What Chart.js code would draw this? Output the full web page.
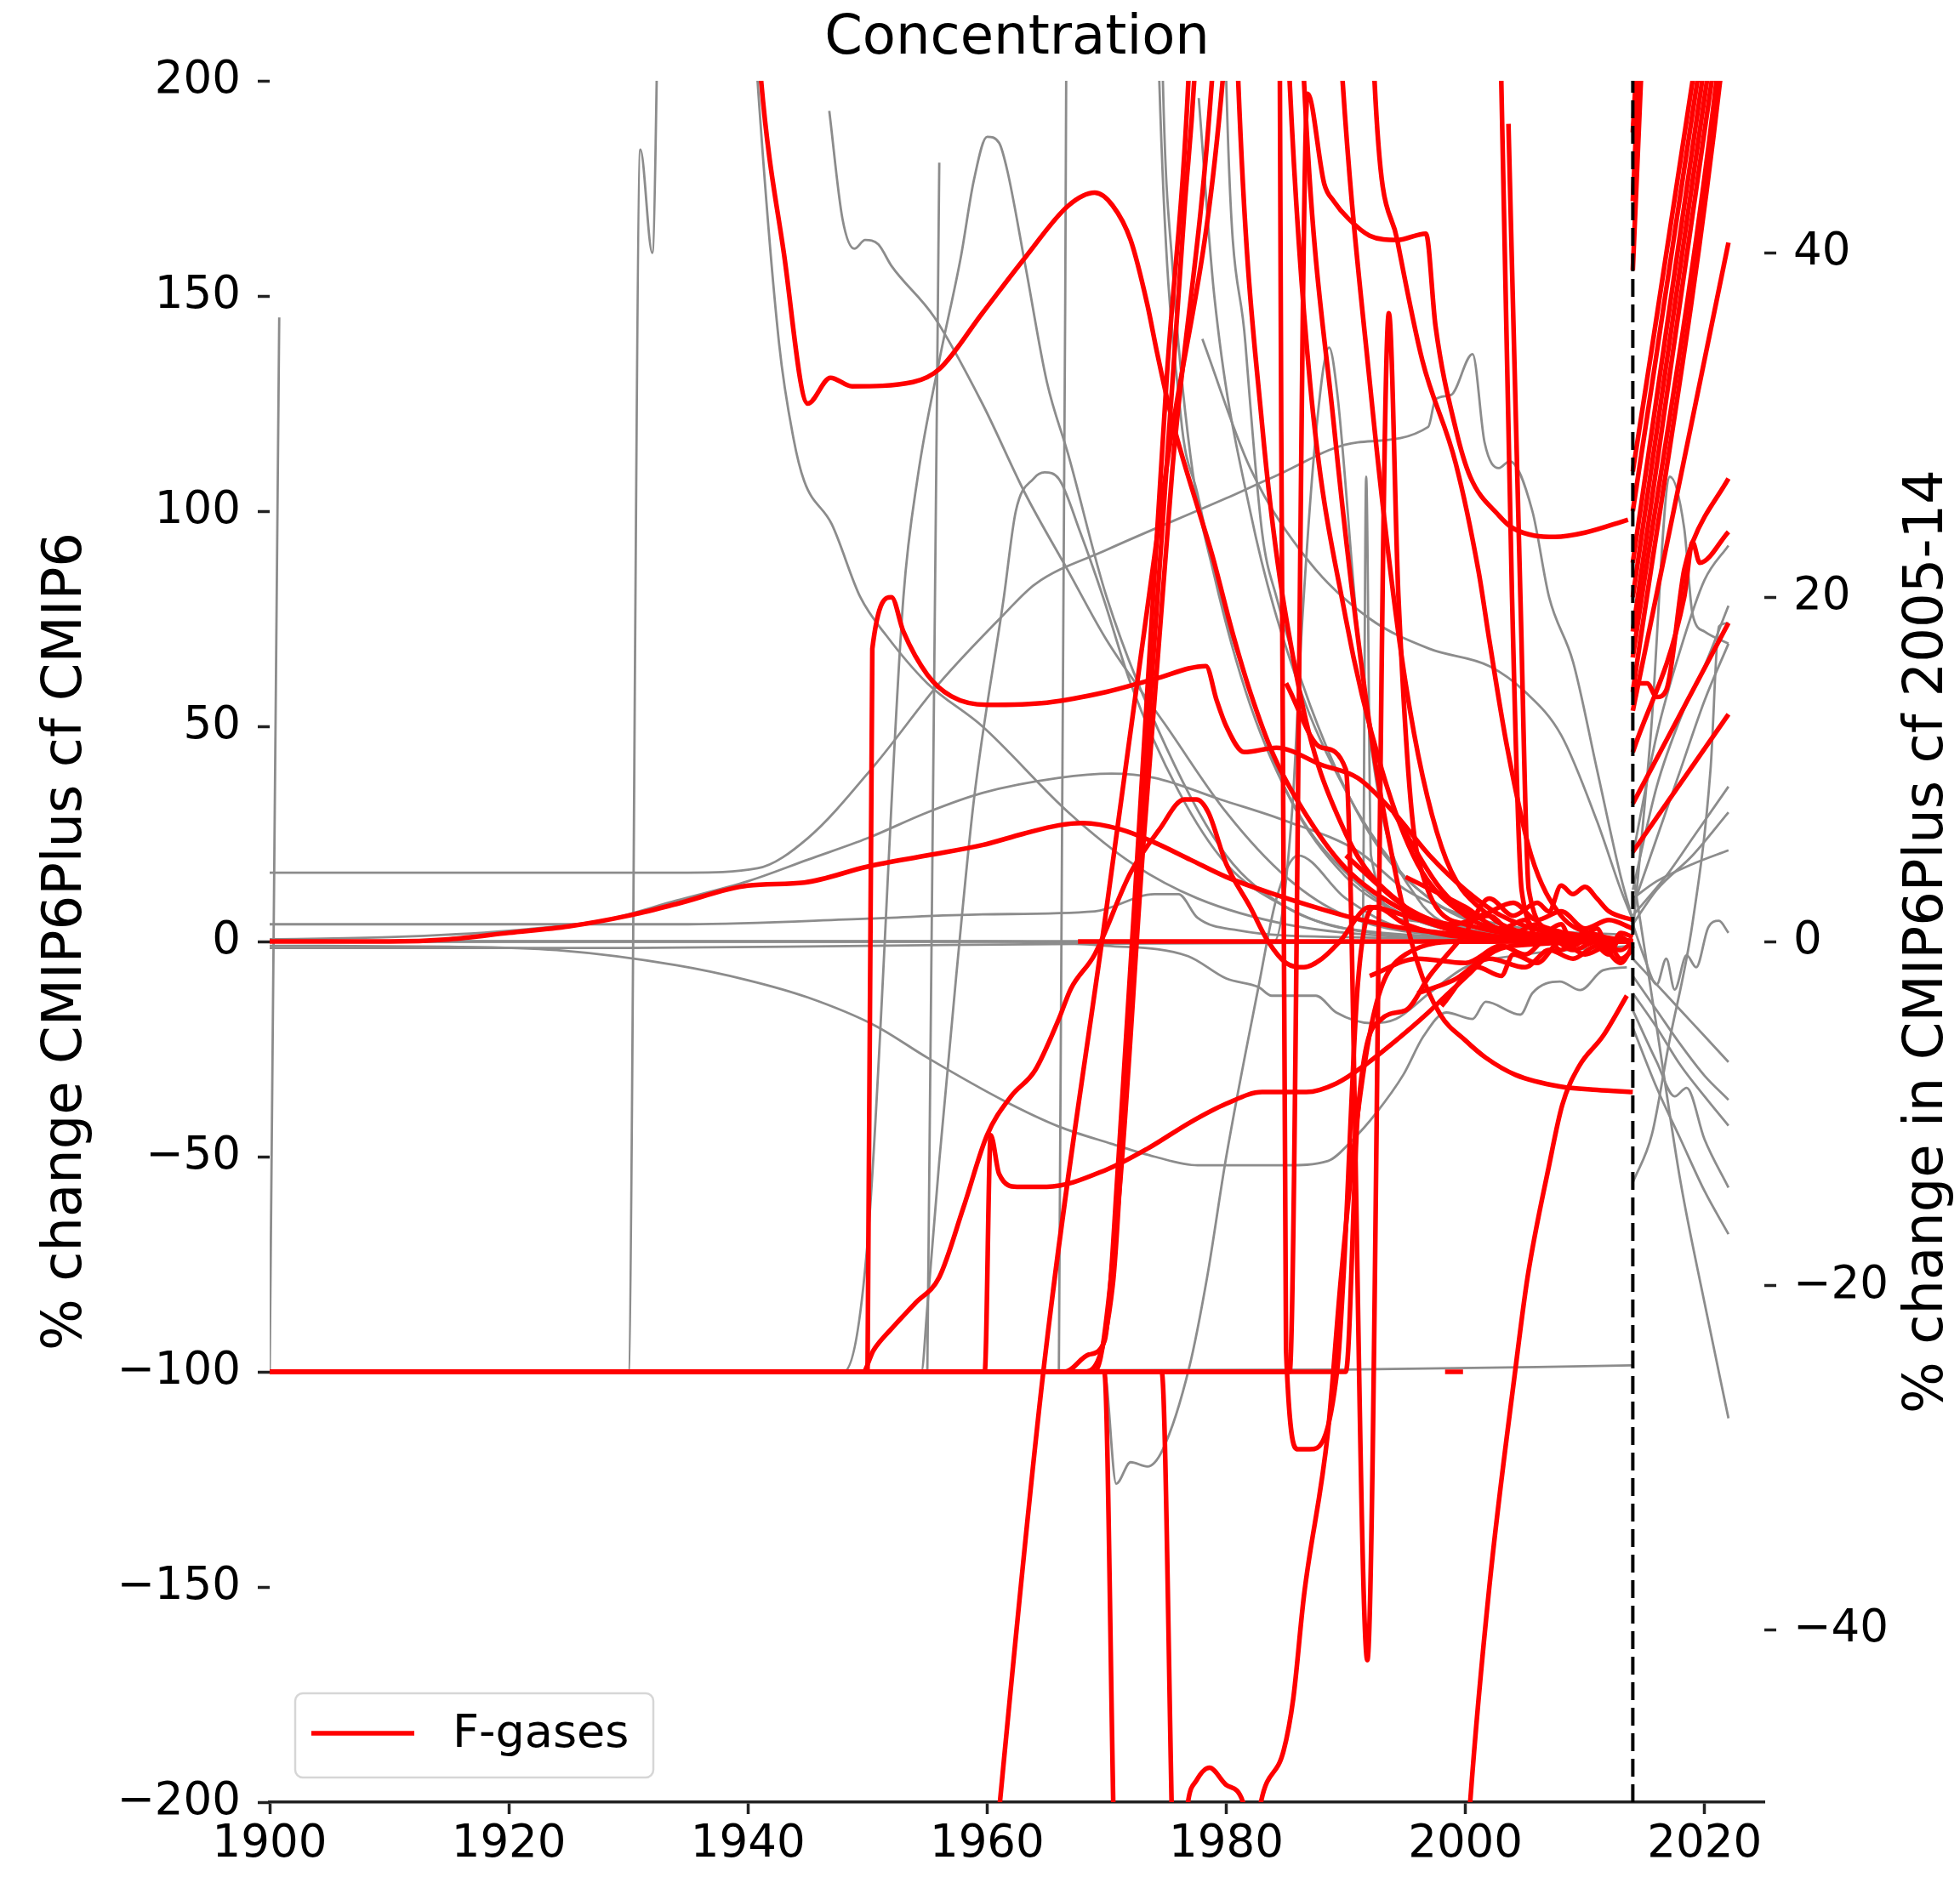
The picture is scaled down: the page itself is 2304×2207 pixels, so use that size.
<!DOCTYPE html>
<html lang="en">
<head>
<meta charset="UTF-8">
<title>Concentration</title>
<script src="https://cdn.jsdelivr.net/npm/chart.js"></script>
<style>
  html, body { margin: 0; padding: 0; background: #fff; }
  canvas { display: block; }
</style>
</head>
<body>
<canvas id="concChart" width="2304" height="2207"></canvas>
<script>
// ---- axes --------------------------------------------------------------
const xTicks = [1900, 1920, 1940, 1960, 1980, 2000, 2020];
const leftTicks = [-200, -150, -100, -50, 0, 50, 100, 150, 200];
const rightTicks = [-40, -20, 0, 20, 40];
const cutYear = 2014;

const titleText = 'Concentration';
const leftTitle = '% change CMIP6Plus cf CMIP6';
const rightTitle = '% change in CMIP6Plus cf 2005-14';
const legendLabel = 'F-gases';

// ---- F-gases, history (% change CMIP6Plus vs CMIP6), [year, value] ----
const fgas01 = [[1900,0],[1910,0],[1915,0.5],[1920,2],[1925,3.5],[1930,6],[1934,8.7],[1940,13],[1944.7,13.7],[1950,17.4],[1955,20],[1959.6,22.4],[1963,25],[1966,27],[1968,27.5],[1971.2,26],[1974,23],[1977,19],[1980,15],[1984,11],[1988,7.5],[1990.6,5.5],[1995,3],[2000,1.5],[2005,0.5],[2014,0]];
const fgas02 = [[1938,330],[1941.1,200],[1943,160],[1945,125],[1946.9,131],[1948.7,129],[1953.8,130],[1956,133],[1959.6,146],[1963.2,159],[1966.8,171],[1969,174],[1970.5,171],[1972,163],[1973.4,148],[1974.2,137],[1975.4,122],[1976.5,111],[1977.6,101],[1978.8,90],[1980.5,72],[1982,58],[1984,43],[1987,28],[1990,17],[1995,7],[2000,2.5],[2005,0.5],[2014,0]];
const fgas03 = [[1900,-100],[1950,-100],[1950.4,68],[1952,80],[1953,72],[1955,62],[1957,57],[1960,55],[1965,55.5],[1970,58],[1974,61],[1978.3,64],[1979.2,56],[1980,50],[1981.5,44],[1984.2,45],[1988,41],[1991,38],[1994,30],[1997,20],[2000,12],[2003,6],[2007,2],[2014,0]];
const fgas04 = [[1900,-100],[1949.6,-100],[1950.5,-95],[1952,-90],[1954,-84],[1956,-78],[1958,-62],[1960,-45],[1962,-36],[1964,-30],[1966,-18],[1967,-11],[1969,-3],[1972,16],[1974.4,26],[1976.5,33],[1977.5,33],[1978.5,30],[1980,18],[1982,8],[1983.5,0],[1985,-5],[1986.5,-6],[1988,-4],[1989.5,0],[1992,8],[1995,6],[2000,2],[2014,0]];
const fgas05 = [[1900,-100],[1959.8,-100],[1960.3,-45],[1961,-54],[1962.5,-57],[1965,-57],[1970,-53],[1973.5,-48],[1977,-42],[1980,-37.7],[1983,-35],[1986.7,-35],[1989.2,-33],[1991.7,-28.5],[1994.2,-23],[1996.7,-17],[1998.4,-12.5],[2000.4,-7.3],[2002,-3],[2004,-1],[2014,0]];
const fgas06 = [[1985,320],[1986.5,200],[1989,120],[1992,50],[1994,18],[1996,-5],[1997.9,-17],[2000,-23],[2001.7,-27],[2004.2,-31],[2007.9,-33.7],[2011,-34.5],[2014,-35]];
const fgas07 = [[1900,-100],[1985.3,-100],[1986.8,197],[1988.2,176],[1989,172],[1990.2,168],[1992,164],[1994.3,163],[1996.7,164.5],[1997.5,143],[1999.2,119],[2000.4,108],[2002.8,99],[2004,96],[2007.5,94],[2010,95],[2013.6,98]];
const fgas08 = [[1985,60],[1988,45],[1990,40],[1991.8,-167],[1993.6,146],[1994.4,80],[1996,20],[2000,4],[2014,0]];
const fgas09 = [[1984.4,260],[1985,-95],[1986,-118],[1987,-118],[1989.3,-99],[1989.8,-78],[1991,-10],[1992.5,8],[1995,4],[2000,1],[2014,0]];
const fgas10 = [[1959,-260],[1964.7,-100],[1970,8],[1975,110],[1980,210],[1981,260]];
const fgas11 = [[1900,-100],[1969.8,-100],[1970.7,-220],[1972,-300],[1998,-300],[1999.5,-240],[2000.4,-200],[2002,-150],[2004.2,-99],[2005.2,-78],[2007,-52],[2008.1,-38],[2009.5,-29],[2011.5,-22],[2013.5,-12.6]];
const fgas12 = [[1991.5,300],[1992.4,200],[1994.3,163],[1996.4,135],[1999.2,111],[2001.1,86],[2002,70],[2003.5,45],[2005.5,20],[2008,6],[2011,1.5],[2014,0]];
const fgas13 = [[1900,-100],[1974.6,-100],[1975.8,-230],[1976.3,-215],[1976.8,-200],[1977.5,-195],[1978.6,-192],[1980,-196],[1981.4,-200],[1982,-212],[1982.5,-208],[1982.9,-200],[1984.8,-188],[1985.6,-176],[1986.5,-152],[1988.5,-114],[1989.6,-78],[1991,-40],[1992.5,-15],[1995,-3],[2000,0],[2014,0]];
const fgas14 = [[1900,-100],[1966.5,-100],[1968.5,-96],[1969.8,-93],[1971,-50],[1973,40],[1975,130],[1977,210],[1978,300],[1984,300],[1985.3,200],[1987,130],[1990,75],[1993,40],[1996,18],[2000,6],[2005,1.5],[2014,0]];
const fgas15 = [[1900,-100],[1968,-100],[1970.5,-80],[1972,-10],[1974,70],[1976.5,170],[1977.5,210],[1978.5,300],[1980,300],[1981,200],[1983,120],[1986,60],[1990,25],[1995,8],[2000,2],[2014,0]];
const fgas16 = [[1900,-100],[1969,-100],[1971,-60],[1973,20],[1975.5,110],[1978.8,200],[1980,260],[1988,300],[1989.5,210],[1992,130],[1995,60],[1998,22],[2002,6],[2008,1],[2014,0]];
const fgas17 = [[2002.6,240],[2003,200],[2003.9,80],[2004.7,12],[2006,3],[2014,0]];
const fgas18 = [[2003.6,190],[2004.6,80],[2005.3,12],[2007,3],[2014,0]];
const fgas19 = [[1998.3,-100],[1999.8,-100]];
const fgas20 = [[1995,15],[2000,8],[2003,3],[2005,5],[2006,1],[2008,4],[2009,-1],[2011,3],[2012,-2],[2013,2],[2014,1]];
const fgas21 = [[1998,-15],[2001,-6],[2003,-8],[2004,-3],[2006,-5],[2008,0],[2010,-3],[2012,-1],[2013,-4],[2014,-2]];
const fgas22 = [[1900,-100],[1990,-100],[1991,-40],[1993,-18],[1995,-16],[1997,-8],[2000,2],[2002,10],[2004,6],[2006,9],[2007,7],[2008,13],[2009,11],[2010,12.7],[2011,10],[2012,7],[2014,5]];
const fgas23 = [[1967.6,0],[2014,0]];
const fgas24 = [[1990,20],[1995,8],[1999,4],[2002,6],[2004,2],[2006,4],[2008,-2],[2010,2],[2012,-3],[2013,1],[2014,-1]];
const fgas25 = [[1992,-8],[1996,-4],[2000,-5],[2003,-1],[2005,-3],[2007,1],[2009,-2],[2011,0],[2013,-5],[2014,-1]];
const fgas26 = [[1994,30],[1998,12],[2001,6],[2004,9],[2006,5],[2008,7],[2010,3],[2012,5],[2014,3]];
const fgas27 = [[1996,-12],[1999,-9],[2002,-4],[2005,-6],[2007,-2],[2009,-4],[2011,-1],[2013,-2],[2014,0]];

// ---- other gases, history ----------------------------------------------
const gas01 = [[1900,16],[1935,16],[1940.8,17],[1945,24],[1950.6,41],[1956,60],[1961.4,76],[1964,83],[1970,91],[1980,103],[1984,108],[1991,116],[1996.9,119.6],[1997.5,126],[1998.8,127],[2000.6,136.5],[2001.6,116],[2002.8,110],[2003.7,111.6],[2005.6,100],[2007,80],[2009,65],[2011,40],[2013,15],[2014,5]];
const gas02 = [[1900,4],[1935,4],[1950,5.3],[1959.6,6.3],[1969,7],[1974,11],[1976,11],[1977.6,5.5],[1981,2.6],[1990,1],[2014,0.5]];
const gas03 = [[1900,-1],[1915,-1.2],[1924,-2],[1934,-5.5],[1940,-9],[1945,-13],[1950.6,-19.5],[1955,-27],[1961.4,-37],[1966,-43],[1970.4,-47],[1974,-50],[1977.6,-52],[1985,-52],[1988.5,-51],[1990.6,-46],[1992.5,-40],[1994.8,-31],[1996.5,-22],[1998.4,-16.5],[2000.6,-18],[2001.7,-14],[2004.6,-17],[2005.6,-12],[2007.9,-9.3],[2009.6,-11.3],[2011.5,-6.7],[2013.5,-6]];
const gas04 = [[1900,0.5],[1910,1],[1920,2.5],[1928,5],[1934,9.5],[1940,14],[1945,19],[1950,24],[1955,30],[1959.6,34.5],[1966,38],[1970.4,39],[1974,38],[1979.5,33],[1985,28],[1991,21],[1995,12],[2000,6],[2005,3],[2014,1.5]];
const gas05 = [[1900,-1.5],[1930,-1.5],[1950,-1],[1970,-0.5],[2014,0]];
const gas06 = [[1900,0],[1960,0],[1970,-1],[1976.8,-3.4],[1980,-8.6],[1982.7,-10.6],[1983.8,-12.6],[1987.5,-12.6],[1989.2,-16.5],[1992.2,-19],[1994.2,-18],[1997,-12],[2000,-6],[2005,-3],[2014,-1]];
const gas07 = [[1900,-100],[1900.8,145]];
const gas08 = [[1900,-100],[1930,-100],[1931,184],[1932,160],[1932.8,260],[1938,330],[1940.8,200],[1942.6,139],[1943.8,117],[1944.7,107],[1947,97],[1949.4,80],[1951.6,71],[1955,60],[1959.6,50],[1966.8,30],[1972.2,18],[1977.6,10],[1985,4],[1995,1],[2014,0]];
const gas09 = [[1946.8,193],[1947.9,168],[1948.9,161],[1949.8,163],[1950.9,162],[1952,157],[1955.6,145],[1959.6,125],[1963.2,104],[1966.8,86],[1970,70],[1975,50],[1980,30],[1985,15],[1990,6],[2000,1],[2014,0]];
const gas10 = [[1900,-100],[1948,-100],[1950,-70],[1953,80],[1954.2,108],[1956,135],[1957.8,159],[1958.9,177],[1960,187],[1961,185.6],[1961.7,179],[1963.2,157],[1965,130],[1966.8,113],[1970,80],[1975,45],[1980,20],[1985,8],[1990,3],[2000,1],[2014,0]];
const gas11 = [[1900,-100],[1954.5,-100],[1955,-85],[1956,-51],[1957.4,-8.5],[1958.9,33],[1961.4,80],[1962.4,100],[1963.9,107.6],[1964.8,109],[1966,107.5],[1967.8,95],[1969.7,80],[1972,60],[1976,35],[1980,18],[1985,8],[1990,3],[2014,0]];
const gas12 = [[1955,-100],[1956,181]];
const gas13 = [[1900,-100],[1966,-100],[1966.8,320]];
const gas14 = [[1973.5,320],[1974.4,200],[1976.2,122],[1977.6,104],[1979.5,80],[1982,58],[1985,35],[1990,15],[1995,6],[2000,2],[2014,0]];
const gas15 = [[1974,320],[1974.7,200],[1975.5,157],[1977,113],[1979,85],[1982,55],[1986,30],[1990,16],[1995,6],[2003,1],[2014,0]];
const gas16 = [[1977.7,196],[1979,150],[1982,100],[1986,60],[1990,35],[1994,18],[1998,8],[2004,2],[2014,0]];
const gas17 = [[1979.3,320],[1980,200],[1981.6,139],[1983,95],[1984.2,80],[1987,55],[1992,25],[1997,10],[2003,3],[2014,0]];
const gas18 = [[1900,0],[1984,0],[1985.5,30],[1986.3,72],[1987.5,118],[1988.6,138],[1989.3,127],[1991,72],[1993,30],[1996,10],[2000,3],[2014,0]];
const gas19 = [[1900,0],[1991.4,0],[1991.7,108],[1992.1,20],[1995,5],[2014,0]];
const gas20 = [[1900,-100],[1969.8,-100],[1970.8,-126],[1972,-121],[1973.4,-122],[1974.7,-118],[1976.9,-99],[1978.4,-78],[1980,-50],[1982.7,-10.5],[1984.2,10],[1986,20],[1990,10],[1995,3],[2014,0]];
const gas21 = [[1900,-100],[1990,-99.5],[2014,-98.5]];
const gas22 = [[1978,140],[1982,110],[1987,88],[1992,75],[1997,68],[2002,64],[2005,58],[2008,48],[2011,28],[2013,12],[2014,5]];

// ---- projections after 2014 (% change vs 2005-14), right axis ---------
const fgasP01 = [[2014,39],[2014.8,52]];
const fgasP02 = [[2014,43],[2014.6,52]];
const fgasP03 = [[2014,47],[2014.4,52]];
const fgasP04 = [[2014,27.3],[2019,50],[2020,55]];
const fgasP05 = [[2014,25],[2019.4,50],[2020,53]];
const fgasP06 = [[2014,22],[2019.8,50],[2021,56]];
const fgasP07 = [[2014,20],[2020.2,50],[2021,54]];
const fgasP08 = [[2014,18],[2020.6,50],[2021,52]];
const fgasP09 = [[2014,16.5],[2021,50],[2022,57]];
const fgasP10 = [[2014,14.5],[2021.3,50],[2022,55]];
const fgasP11 = [[2014,13.4],[2022,40.6]];
const fgasP12 = [[2014,15],[2015.2,15],[2016,14.2],[2016.8,14.6],[2018.3,21.6],[2019,23.2],[2022,26.9]];
const fgasP13 = [[2014,11],[2018.3,20],[2019,23.2],[2019.6,22],[2022,23.8]];
const fgasP14 = [[2014,8],[2022,18.5]];
const fgasP15 = [[2014,5.2],[2022,13.2]];

const gasP01 = [[2014,3],[2016,9],[2018,13],[2020,16],[2022,19.5]];
const gasP02 = [[2014,2],[2016,6],[2018,10],[2020,14],[2022,17.3]];
const gasP03 = [[2014,1.5],[2017,4],[2019,6],[2022,9]];
const gasP04 = [[2014,1],[2016,3],[2019,5],[2022,7.5]];
const gasP05 = [[2014,2.5],[2016,3.5],[2019,4.5],[2022,5.3]];
const gasP06 = [[2014,1],[2015,-1],[2016,-2.5],[2016.8,-1],[2017.5,-2.8],[2018.5,-0.8],[2019.3,-1.5],[2020.3,0.8],[2021.2,1.2],[2022,0.5]];
const gasP07 = [[2014,-1],[2016,-2.5],[2018,-4],[2020,-5.5],[2022,-7]];
const gasP08 = [[2014,-2],[2016,-4],[2018,-6],[2020,-7.8],[2022,-9.2]];
const gasP09 = [[2014,-3],[2016,-5],[2018,-7.2],[2020,-9],[2022,-10.7]];
const gasP10 = [[2014,-4],[2016,-7],[2017.5,-9],[2018.5,-8.5],[2020,-11.5],[2022,-14.3]];
const gasP11 = [[2014,-5],[2016,-8.5],[2018,-11.5],[2020,-14.5],[2022,-17]];
const gasP12 = [[2014,4],[2016,-5],[2018,-14],[2020,-21],[2022,-27.7]];
const gasP13 = [[2014,0.5],[2015.5,12],[2017.1,27],[2018.3,24],[2019,19],[2020,18],[2022,17.3]];
const gasP14 = [[2014,-14],[2015.6,-11.2],[2017,-6],[2019,1.1],[2020.5,10],[2021.2,18.3],[2022,18.5]];
const gasP15 = [[2014,5],[2016,12],[2018,17],[2020,21],[2022,23]];

const redHistory = [fgas01, fgas02, fgas03, fgas04, fgas05, fgas06, fgas07, fgas08, fgas09, fgas10, fgas11, fgas12,
                    fgas13, fgas14, fgas15, fgas16, fgas17, fgas18, fgas19, fgas20, fgas21, fgas22, fgas23,
                    fgas24, fgas25, fgas26, fgas27];
const greyHistory = [gas01, gas02, gas03, gas04, gas05, gas06, gas07, gas08, gas09, gas10, gas11,
                     gas12, gas13, gas14, gas15, gas16, gas17, gas18, gas19, gas20, gas21, gas22];
const redOutlook = [fgasP01, fgasP02, fgasP03, fgasP04, fgasP05, fgasP06, fgasP07, fgasP08,
                    fgasP09, fgasP10, fgasP11, fgasP12, fgasP13, fgasP14, fgasP15];
const greyOutlook = [gasP01, gasP02, gasP03, gasP04, gasP05, gasP06, gasP07, gasP08,
                     gasP09, gasP10, gasP11, gasP12, gasP13, gasP14, gasP15];

// ---- styling -----------------------------------------------------------
const RED = '#ff0000';
const GREY = '#8c8c8c';
const FONT = 'DejaVu Sans';
const minus = v => String(v).replace('-', '\u2212');

function lineSet(series, axis, color, width, order, label) {
    return {
        label: label || '',
        data: series.map(([x, y]) => ({ x, y })),
        yAxisID: axis,
        borderColor: color,
        backgroundColor: color,
        borderWidth: width,
        pointRadius: 0,
        cubicInterpolationMode: 'monotone',
        fill: false,
        order: order
    };
}

const datasets = [];
// dashed marker at the start of the projection period
datasets.push({
    label: '',
    data: [{ x: cutYear, y: leftTicks[0] }, { x: cutYear, y: leftTicks[leftTicks.length - 1] }],
    yAxisID: 'y',
    borderColor: '#000',
    borderWidth: 4,
    borderDash: [21, 9],
    pointRadius: 0,
    tension: 0,
    order: 0
});
redHistory.forEach((s, i) => datasets.push(lineSet(s, 'y', RED, 5.5, 1, i === 0 ? legendLabel : '')));
redOutlook.forEach(s => datasets.push(lineSet(s, 'y2', RED, 5.5, 1)));
greyHistory.forEach(s => datasets.push(lineSet(s, 'y', GREY, 2.8, 2)));
greyOutlook.forEach(s => datasets.push(lineSet(s, 'y2', GREY, 2.8, 2)));

// title, rotated axis titles (both read bottom to top) and the legend box
const decorations = {
    id: 'decorations',
    afterDraw(chart) {
        const { ctx, chartArea: a } = chart;
        const midY = (a.top + a.bottom) / 2;
        ctx.save();
        ctx.fillStyle = '#000';
        ctx.textAlign = 'center';
        ctx.textBaseline = 'middle';
        ctx.font = '64px "' + FONT + '"';
        ctx.fillText(titleText, (a.left + a.right) / 2, 46);

        [[leftTitle, a.left - 239], [rightTitle, a.right + 192]].forEach(([t, x]) => {
            ctx.save();
            ctx.translate(x, midY);
            ctx.rotate(-Math.PI / 2);
            ctx.fillText(t, 0, 0);
            ctx.restore();
        });

        // legend
        const bx = a.left + 30, by = a.bottom - 128, bw = 421, bh = 99, r = 9;
        ctx.beginPath();
        ctx.moveTo(bx + r, by);
        ctx.arcTo(bx + bw, by, bx + bw, by + bh, r);
        ctx.arcTo(bx + bw, by + bh, bx, by + bh, r);
        ctx.arcTo(bx, by + bh, bx, by, r);
        ctx.arcTo(bx, by, bx + bw, by, r);
        ctx.closePath();
        ctx.fillStyle = 'rgba(255,255,255,0.85)';
        ctx.fill();
        ctx.strokeStyle = '#d6d6d6';
        ctx.lineWidth = 2.5;
        ctx.stroke();

        const item = chart.data.datasets.find(d => d.label === legendLabel);
        ctx.beginPath();
        ctx.moveTo(bx + 19, by + 47);
        ctx.lineTo(bx + 140, by + 47);
        ctx.strokeStyle = item.borderColor;
        ctx.lineWidth = item.borderWidth;
        ctx.stroke();

        ctx.fillStyle = '#000';
        ctx.textAlign = 'left';
        ctx.textBaseline = 'alphabetic';
        ctx.font = '54px "' + FONT + '"';
        ctx.fillText(item.label, bx + 185, by + 63);
        ctx.restore();
    }
};

const tickFont = { family: FONT, size: 53 };
const tickGrid = { drawOnChartArea: false, drawTicks: true, tickLength: 14, tickWidth: 3.5, tickColor: '#222' };

new Chart(document.getElementById('concChart').getContext('2d'), {
    type: 'line',
    data: { datasets: datasets },
    options: {
        responsive: false,
        animation: false,
        devicePixelRatio: 1,
        layout: { padding: { top: 95, left: 0, right: 0, bottom: 0 } },
        plugins: {
            legend: { display: false },
            title: { display: false },
            tooltip: { enabled: false }
        },
        scales: {
            x: {
                type: 'linear',
                position: 'bottom',
                min: 1900,
                max: 2025,
                grid: tickGrid,
                border: { display: true, color: '#222', width: 3.5 },
                ticks: { font: tickFont, color: '#000', padding: 4, maxRotation: 0, autoSkip: false, callback: v => String(v) },
                afterBuildTicks: s => { s.ticks = xTicks.map(v => ({ value: v })); },
                afterFit: s => { s.height = 88; }
            },
            y: {
                type: 'linear',
                position: 'left',
                min: -200,
                max: 200,
                grid: tickGrid,
                border: { display: false },
                ticks: { font: tickFont, color: '#000', padding: 20, autoSkip: false, callback: v => minus(v) },
                afterBuildTicks: s => { s.ticks = leftTicks.map(v => ({ value: v })); },
                afterFit: s => { s.width = 317; }
            },
            y2: {
                type: 'linear',
                position: 'right',
                min: -50,
                max: 50,
                grid: tickGrid,
                border: { display: false },
                ticks: { font: tickFont, color: '#000', padding: 20, autoSkip: false, callback: v => minus(v) },
                afterBuildTicks: s => { s.ticks = rightTicks.map(v => ({ value: v })); },
                afterFit: s => { s.width = 230; }
            }
        }
    },
    plugins: [decorations]
});
</script>
</body>
</html>
